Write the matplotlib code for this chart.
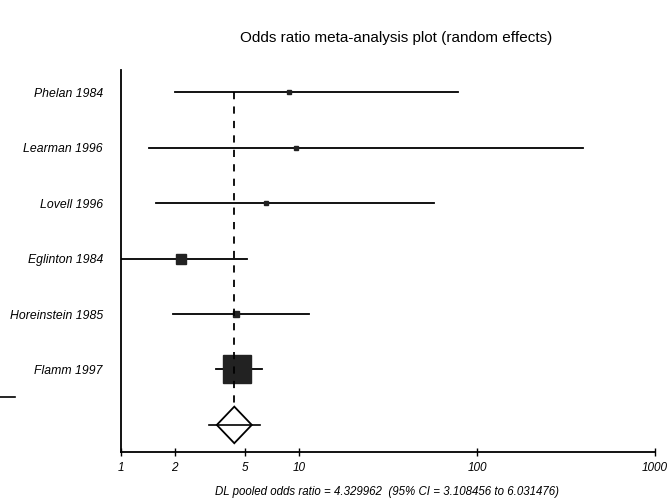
import matplotlib.pyplot as plt
from matplotlib.lines import Line2D
from matplotlib.patches import Polygon
import numpy as np

plt.rcParams['font.family'] = ['Liberation Sans', 'DejaVu Sans']

studies = ["Phelan 1984", "Learman 1996", "Lovell 1996", "Eglinton 1984",
           "Horeinstein 1985", "Flamm 1997"]
odds = [8.8, 9.6, 6.5, 2.17, 4.4, 4.5]
lower = [2.01, 1.44, 1.57, 0.95, 1.96, 3.42]
upper = [78, 394, 57, 5.1, 11.4, 6.2]
box_size = [3, 2.5, 3, 6.5, 5, 20]  # marker size ~ study weight

pooled = 4.329962
pooled_lo = 3.108456
pooled_hi = 6.031476

xticks = [1, 2, 5, 10, 100, 1000]

fig = plt.figure(figsize=(6.67, 5.04), dpi=100)
ax = fig.add_axes([0.1814, 0.103, 0.8006, 0.758])

n = len(studies)
ypos = np.arange(n, 0, -1)

for y, o, lo, hi, s in zip(ypos, odds, lower, upper, box_size):
    ax.plot([lo, hi], [y, y], color='black', lw=1.3)
    ax.plot(o, y, marker='s', color='#222222', markersize=s, mec='#222222')

# pooled estimate
ax.plot([pooled, pooled], [n, 0.33], color='black', lw=1.3, ls=(0, (4, 4)))
ax.plot([pooled_lo, pooled_hi], [0, 0], color='black', lw=1.2)
f = 1.254
dia = Polygon([[pooled / f, 0], [pooled, 0.33], [pooled * f, 0], [pooled, -0.33]],
              closed=True, fill=False, edgecolor='black', lw=1.3)
ax.add_patch(dia)

ax.set_xscale('log')
ax.set_xlim(1, 1000)
ax.set_ylim(-0.49, n + 0.4)

ax.set_xticks(xticks)
ax.set_xticklabels([str(t) for t in xticks], fontstyle='italic', fontsize=8.5)
ax.minorticks_off()
ax.tick_params(axis='x', direction='inout', length=6, width=1, pad=4)

ax.set_yticks(ypos)
ax.set_yticklabels(studies, fontstyle='italic', fontsize=8.8)
ax.tick_params(axis='y', length=0, pad=13)

ax.spines['top'].set_visible(False)
ax.spines['right'].set_visible(False)
ax.spines['left'].set_linewidth(1.3)
ax.spines['bottom'].set_linewidth(1.3)

fig.text(0.594, 0.925, "Odds ratio meta-analysis plot (random effects)",
         ha='center', va='center', fontsize=11)
fig.text(0.58, 0.024,
         "DL pooled odds ratio = %.6f  (95%% CI = %.6f to %.6f)" % (pooled, pooled_lo, pooled_hi),
         ha='center', va='center', fontsize=8.3, fontstyle='italic')

fig.add_artist(Line2D([0.0, 0.022], [0.212, 0.212], color='black', lw=1.2))

fig.savefig('out.png', dpi=100)
